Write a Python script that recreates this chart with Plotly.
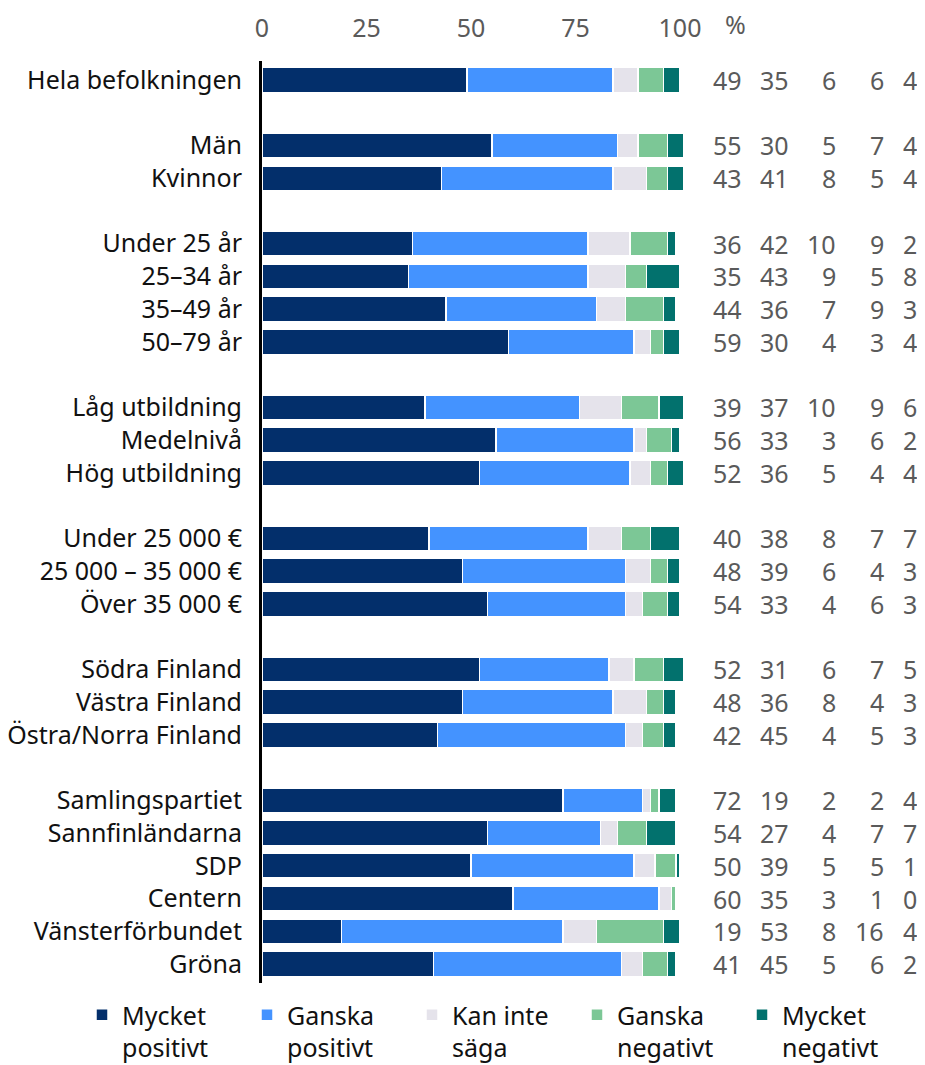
import plotly.graph_objects as go

categories = ["Hela befolkningen", "Män", "Kvinnor", "Under 25 år", "25–34 år", "35–49 år",
              "50–79 år", "Låg utbildning", "Medelnivå", "Hög utbildning", "Under 25 000 €",
              "25 000 – 35 000 €", "Över 35 000 €", "Södra Finland", "Västra Finland",
              "Östra/Norra Finland", "Samlingspartiet", "Sannfinländarna", "SDP", "Centern",
              "Vänsterförbundet", "Gröna"]
# blank separator rows follow these categories
group_ends = ["Hela befolkningen", "Kvinnor", "50–79 år", "Hög utbildning", "Över 35 000 €",
              "Östra/Norra Finland"]

series_names = ["Mycket<br>positivt", "Ganska<br>positivt", "Kan inte<br>säga",
                "Ganska<br>negativt", "Mycket<br>negativt"]
mycket_positivt = [49, 55, 43, 36, 35, 44, 59, 39, 56, 52, 40, 48, 54, 52, 48, 42, 72, 54, 50, 60, 19, 41]
ganska_positivt = [35, 30, 41, 42, 43, 36, 30, 37, 33, 36, 38, 39, 33, 31, 36, 45, 19, 27, 39, 35, 53, 45]
kan_inte_saga = [6, 5, 8, 10, 9, 7, 4, 10, 3, 5, 8, 6, 4, 6, 8, 4, 2, 4, 5, 3, 8, 5]
ganska_negativt = [6, 7, 5, 9, 5, 9, 3, 9, 6, 4, 7, 4, 6, 7, 4, 5, 2, 7, 5, 1, 16, 6]
mycket_negativt = [4, 4, 4, 2, 8, 3, 4, 6, 2, 4, 7, 3, 3, 5, 3, 3, 4, 7, 1, 0, 4, 2]
x_ticks = [0, 25, 50, 75, 100]

series_values = [mycket_positivt, ganska_positivt, kan_inte_saga, ganska_negativt, mycket_negativt]
colors = ["#032F6B", "#4493FF", "#E5E3EB", "#7CC796", "#02716D"]

# category order with blank rows between groups
cat_order = []
blank = 0
for c in categories:
    cat_order.append(c)
    if c in group_ends:
        blank += 1
        cat_order.append(" " * blank)

FONT = "Noto Sans"
FS = 25
OFF = 8                       # page body margin
W, H = 925 - OFF, 1065 - OFF
LEFT, TOP = 262 - OFF, 61 - OFF
BOTTOM = H - (983 - OFF)
PX_PER_UNIT = 418 / 100.0          # 0 -> 262 px, 100 -> 680 px (page px)
XMAX = (W - LEFT) / PX_PER_UNIT     # plot area runs to the right edge


def px_to_x(px):
    return (px - OFF - LEFT) / PX_PER_UNIT


fig = go.Figure()
for name, vals, col in zip(series_names, series_values, colors):
    fig.add_trace(go.Bar(
        y=categories, x=vals, name=name, orientation="h",
        marker=dict(color=col, line=dict(color="white", width=1.5)),
        hoverinfo="x+y",
    ))

# value columns at right (page px of right edges)
col_right_px = [744, 791, 838, 886, 919]
for vals, rpx in zip(series_values, col_right_px):
    for c, v in zip(categories, vals):
        fig.add_annotation(x=px_to_x(rpx), xref="x", y=c, yref="y",
                           text=str(v), showarrow=False, xanchor="right",
                           font=dict(family=FONT, size=FS, color="#5a5a5a"))

fig.add_annotation(x=px_to_x(735), xref="x", y=1, yref="paper",
                   yanchor="bottom", yshift=18, text="%", showarrow=False,
                   font=dict(family=FONT, size=FS, color="#5a5a5a"))

plot_w = W - LEFT
plot_h = H - TOP - BOTTOM
fig.update_layout(
    barmode="stack",
    bargap=0.24,
    width=W, height=H,
    margin=dict(l=LEFT, r=0, t=TOP, b=BOTTOM, autoexpand=False),
    paper_bgcolor="white", plot_bgcolor="white",
    font=dict(family=FONT, size=FS, color="#111111"),
    showlegend=True,
    legend=dict(orientation="h", x=(74 - LEFT) / plot_w, xanchor="left",
                y=-(984 - (H - BOTTOM)) / plot_h, yanchor="top",
                valign="top", font=dict(family=FONT, size=FS, color="#111111"),
                traceorder="normal", itemwidth=30, entrywidth=120, itemclick=False),
    xaxis=dict(range=[0, XMAX], side="top", tickvals=x_ticks, showgrid=False, zeroline=False,
               showline=False, ticks="", ticklabelstandoff=18, automargin=False,
               tickfont=dict(family=FONT, size=FS, color="#5a5a5a")),
    yaxis=dict(categoryorder="array", categoryarray=cat_order, autorange="reversed",
               showline=True, linecolor="black", linewidth=3, ticks="", ticklabelstandoff=12,
               showgrid=False, automargin=False,
               tickfont=dict(family=FONT, size=FS, color="#111111")),
)

fig.write_html("out.html")
